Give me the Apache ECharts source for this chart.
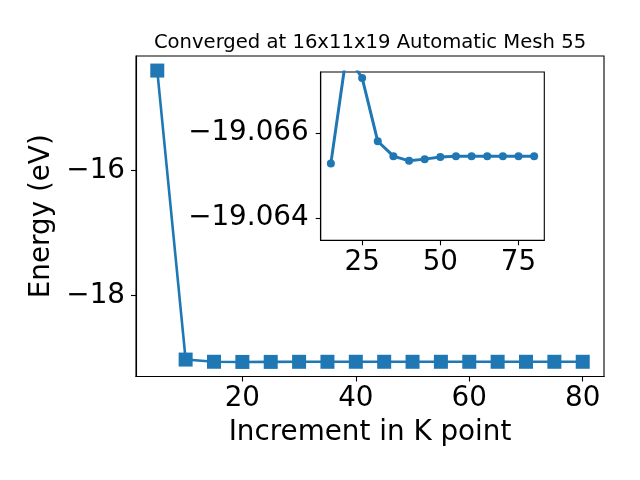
<!DOCTYPE html>
<html>
<head>
<meta charset="utf-8">
<script src="https://cdn.jsdelivr.net/npm/echarts@6/dist/echarts.min.js"></script>
<style>html,body{margin:0;padding:0;background:#fff}#c{width:640px;height:480px}</style>
</head>
<body>
<div id="c"></div>
<script>
const kpoints = [5, 10, 15, 20, 25, 30, 35, 40, 45, 50, 55, 60, 65, 70, 75, 80];
const energy = [-14.40, -19.03, -19.06529, -19.06786, -19.06730, -19.06581, -19.06546, -19.06535, -19.06539, -19.06544, -19.06546, -19.06546, -19.06546, -19.06546, -19.06546, -19.06546];
const mainXTicks = [20, 40, 60, 80];
const mainYTicks = [-18, -16];
const insetXTicks = [25, 50, 75];
const insetYTicks = [-19.066, -19.064];
const insetStart = 2;
const titleText = 'Converged at 16x11x19 Automatic Mesh 55';
const xName = 'Increment in K point';
const yName = 'Energy (eV)';

const FONT = 'DejaVu Sans';
const BLUE = '#1f77b4';
const mainData = kpoints.map((k, i) => [k, energy[i]]);
const insetData = kpoints.slice(insetStart).map((k, i) => [k, energy[i + insetStart]]);
const minus = v => (v < 0 ? '\u2212' : '') + Math.abs(v);

const chart = echarts.init(document.getElementById('c'), null, {renderer: 'canvas'});
const axisCommon = {
  axisLine: {show: true, onZero: false, lineStyle: {color: '#000', width: 1.1}},
  axisTick: {show: true, inside: false, length: 5, lineStyle: {color: '#000', width: 1.1}},
  splitLine: {show: false}
};
chart.setOption({
  animation: false,
  backgroundColor: '#fff',
  title: {
    text: titleText, left: 365, top: 28, textAlign: 'center',
    textStyle: {fontFamily: FONT, fontSize: 19.6, fontWeight: 'normal', color: '#000'}
  },
  grid: [
    {left: 136, top: 56, right: 36, bottom: 103.5, show: true, borderColor: '#000', borderWidth: 1.1, backgroundColor: '#fff'},
    {left: 320.7, top: 72, right: 95.7, bottom: 239.7, show: true, borderColor: '#000', borderWidth: 1.1, backgroundColor: '#fff'}
  ],
  xAxis: [
    Object.assign({}, axisCommon, {
      type: 'value', gridIndex: 0, min: 1.25, max: 83.75,
      name: xName, nameLocation: 'middle', nameGap: 42,
      nameTextStyle: {fontFamily: FONT, fontSize: 27.8, color: '#000'},
      axisTick: Object.assign({}, axisCommon.axisTick, {customValues: mainXTicks}),
      axisLabel: {customValues: mainXTicks, margin: 8, fontFamily: FONT, fontSize: 27.8, color: '#000', formatter: minus}
    }),
    Object.assign({}, axisCommon, {
      type: 'value', gridIndex: 1, min: 11.75, max: 83.25,
      axisTick: Object.assign({}, axisCommon.axisTick, {customValues: insetXTicks}),
      axisLabel: {customValues: insetXTicks, margin: 8, fontFamily: FONT, fontSize: 27.8, color: '#000', formatter: minus}
    })
  ],
  yAxis: [
    Object.assign({}, axisCommon, {
      type: 'value', gridIndex: 0, min: -19.3013, max: -14.1666,
      name: yName, nameLocation: 'middle', nameGap: 74, nameRotate: 90,
      nameTextStyle: {fontFamily: FONT, fontSize: 27.8, color: '#000'},
      axisTick: Object.assign({}, axisCommon.axisTick, {customValues: mainYTicks}),
      axisLabel: {customValues: mainYTicks, margin: 11, fontFamily: FONT, fontSize: 27.8, color: '#000', formatter: minus}
    }),
    Object.assign({}, axisCommon, {
      type: 'value', gridIndex: 1, inverse: true, min: -19.06744, max: -19.06348,
      axisTick: Object.assign({}, axisCommon.axisTick, {customValues: insetYTicks}),
      axisLabel: {customValues: insetYTicks, margin: 12, fontFamily: FONT, fontSize: 27.8, color: '#000',
        formatter: v => '\u2212' + Math.abs(v).toFixed(3)}
    })
  ],
  series: [
    {
      type: 'line', xAxisIndex: 0, yAxisIndex: 0, data: mainData,
      symbol: 'rect', symbolSize: 14, showAllSymbol: true,
      lineStyle: {color: BLUE, width: 2.6}, itemStyle: {color: BLUE},
      clip: true, z: 2
    },
    {
      type: 'line', xAxisIndex: 1, yAxisIndex: 1, data: insetData,
      symbol: 'circle', symbolSize: 8, showAllSymbol: true,
      lineStyle: {color: BLUE, width: 3}, itemStyle: {color: BLUE},
      clip: true, z: 5
    }
  ]
});
</script>
</body>
</html>
